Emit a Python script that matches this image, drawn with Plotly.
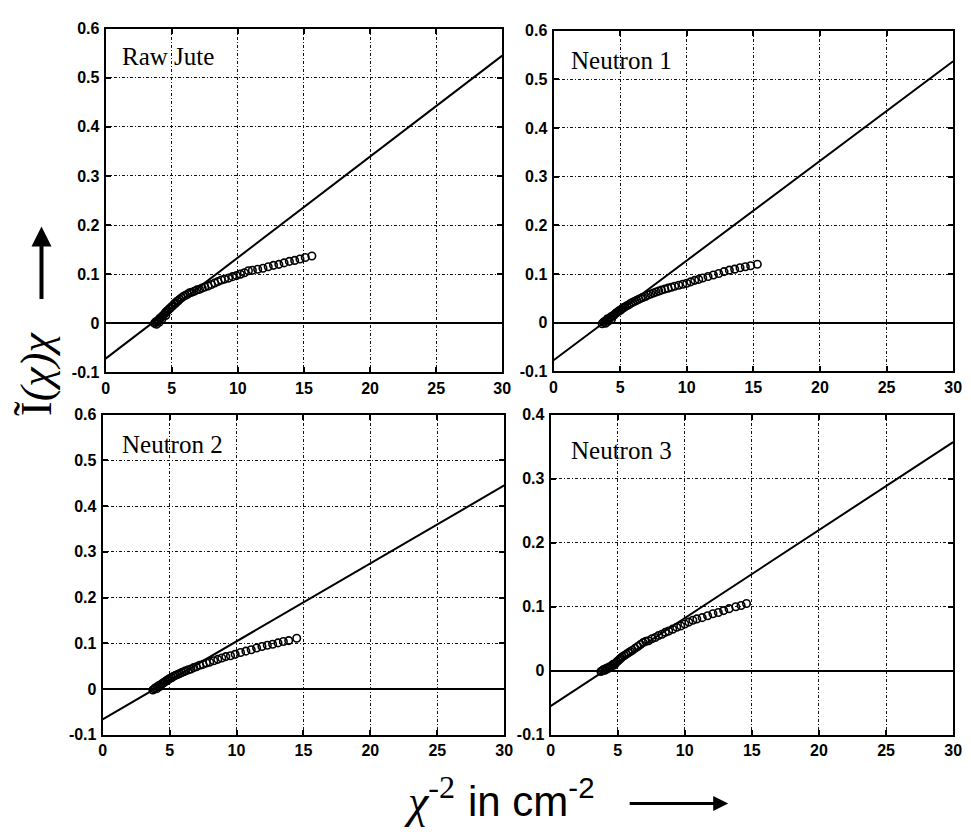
import plotly.graph_objects as go

# ---------------- data ----------------
x_ticks = [0, 5, 10, 15, 20, 25, 30]
y_ticks_a = [-0.1, 0, 0.1, 0.2, 0.3, 0.4, 0.5, 0.6]
y_ticks_b = [-0.1, 0, 0.1, 0.2, 0.3, 0.4]
panel_titles = ["Raw Jute", "Neutron 1", "Neutron 2", "Neutron 3"]

raw_x = [3.70, 3.80, 3.85, 3.90, 4.00, 4.05, 4.10, 4.20, 4.25, 4.30, 4.40, 4.50, 4.55, 4.60,
         4.70, 4.80, 4.90, 5.00, 5.10, 5.20, 5.30, 5.40, 5.50, 5.60, 5.75, 5.90, 6.05, 6.20,
         6.35, 6.50, 6.70, 6.90, 7.10, 7.30, 7.50, 7.75, 8.00, 8.25, 8.50, 8.75, 9.00, 9.30,
         9.60, 9.90, 10.2, 10.5, 10.8, 11.1, 11.5, 11.9, 12.3, 12.7, 13.1, 13.5, 13.9, 14.3,
         14.7, 15.1, 15.6]
raw_y = [0.000, 0.003, -0.002, 0.004, 0.007, 0.002, 0.010, 0.012, 0.008, 0.015, 0.017, 0.021, 0.016, 0.024,
         0.026, 0.029, 0.031, 0.034, 0.036, 0.040, 0.041, 0.045, 0.046, 0.049, 0.052, 0.055, 0.057, 0.059,
         0.062, 0.063, 0.065, 0.068, 0.069, 0.072, 0.074, 0.076, 0.079, 0.082, 0.085, 0.088, 0.090, 0.092,
         0.095, 0.097, 0.100, 0.103, 0.107, 0.108, 0.110, 0.112, 0.115, 0.118, 0.120, 0.123, 0.126, 0.128,
         0.131, 0.134, 0.137]

n1_x = [3.65, 3.75, 3.85, 3.90, 4.00, 4.05, 4.10, 4.20, 4.30, 4.35, 4.45, 4.55, 4.65, 4.75,
        4.85, 4.95, 5.05, 5.15, 5.25, 5.35, 5.50, 5.65, 5.80, 5.95, 6.10, 6.25, 6.40, 6.55,
        6.70, 6.90, 7.10, 7.30, 7.50, 7.70, 7.90, 8.10, 8.35, 8.60, 8.85, 9.10, 9.40, 9.70,
        10.0, 10.3, 10.6, 10.9, 11.2, 11.6, 12.0, 12.4, 12.8, 13.2, 13.6, 14.0, 14.4, 14.8, 15.3]
n1_y = [-0.002, 0.001, 0.003, -0.001, 0.005, 0.008, 0.003, 0.009, 0.012, 0.007, 0.014, 0.016, 0.019, 0.021,
        0.023, 0.025, 0.026, 0.029, 0.031, 0.032, 0.035, 0.037, 0.040, 0.042, 0.044, 0.046, 0.048, 0.050,
        0.052, 0.054, 0.057, 0.059, 0.061, 0.063, 0.065, 0.067, 0.069, 0.071, 0.073, 0.075, 0.077, 0.079,
        0.081, 0.084, 0.087, 0.089, 0.092, 0.095, 0.098, 0.101, 0.105, 0.108, 0.110, 0.113, 0.115, 0.117, 0.120]

n2_x = [3.75, 3.85, 3.95, 4.05, 4.10, 4.20, 4.30, 4.40, 4.50, 4.60, 4.70, 4.80, 4.90, 5.00,
        5.15, 5.30, 5.45, 5.60, 5.75, 5.90, 6.05, 6.20, 6.40, 6.60, 6.80, 7.00, 7.25, 7.50,
        7.75, 8.00, 8.30, 8.60, 8.90, 9.20, 9.55, 9.90, 10.3, 10.7, 11.1, 11.5, 11.9, 12.3,
        12.7, 13.1, 13.5, 13.9, 14.5]
n2_y = [-0.002, 0.000, 0.003, 0.001, 0.005, 0.008, 0.006, 0.011, 0.013, 0.015, 0.017, 0.019, 0.021, 0.023,
        0.025, 0.028, 0.030, 0.032, 0.034, 0.036, 0.038, 0.040, 0.042, 0.044, 0.047, 0.049, 0.052, 0.054,
        0.057, 0.059, 0.062, 0.065, 0.068, 0.071, 0.073, 0.076, 0.080, 0.083, 0.086, 0.090, 0.093, 0.096,
        0.098, 0.101, 0.104, 0.106, 0.111]

n3_x = [3.75, 3.85, 3.95, 4.05, 4.15, 4.25, 4.35, 4.45, 4.55, 4.65, 4.75, 4.85, 4.95, 5.05,
        5.15, 5.25, 5.35, 5.50, 5.65, 5.80, 5.95, 6.10, 6.30, 6.50, 6.70, 6.90, 7.10, 7.30,
        7.55, 7.80, 8.05, 8.30, 8.55, 8.80, 9.10, 9.40, 9.70, 10.0, 10.3, 10.6, 10.9, 11.3,
        11.7, 12.1, 12.5, 12.9, 13.3, 13.8, 14.2, 14.6]
n3_y = [-0.001, 0.000, 0.002, 0.001, 0.004, 0.003, 0.006, 0.005, 0.008, 0.010, 0.009, 0.012, 0.014, 0.016,
        0.018, 0.020, 0.022, 0.024, 0.026, 0.028, 0.030, 0.032, 0.035, 0.038, 0.041, 0.044, 0.046, 0.047,
        0.050, 0.052, 0.055, 0.057, 0.060, 0.062, 0.065, 0.068, 0.070, 0.073, 0.076, 0.079, 0.081, 0.083,
        0.086, 0.089, 0.091, 0.094, 0.097, 0.100, 0.102, 0.105]

fit_x = [0, 30]
raw_fit_y = [-0.072, 0.545]
n1_fit_y = [-0.077, 0.537]
n2_fit_y = [-0.066, 0.445]
n3_fit_y = [-0.055, 0.357]

# ---------------- figure ----------------
W, H = 971, 834
fig = go.Figure()

panels = [
    (raw_x, raw_y, raw_fit_y, y_ticks_a, (103, 505), (21, 372), (118, 49)),
    (n1_x, n1_y, n1_fit_y, y_ticks_a, (557, 962), (23, 371), (573, 54)),
    (n2_x, n2_y, n2_fit_y, y_ticks_a, (100, 507), (415, 742), (118, 446)),
    (n3_x, n3_y, n3_fit_y, y_ticks_b, (554, 962), (415, 742), (573, 452)),
]

tick_font = dict(family="Liberation Sans", size=16, color="black", weight="bold")
annotations = []
for i, (sx, sy, fy, yt, (xl, xr), (yt_px, yb_px), (tx, ty)) in enumerate(panels):
    n = "" if i == 0 else str(i + 1)
    xa, ya = "x" + n, "y" + n
    fig.add_trace(go.Scatter(x=fit_x, y=fy, mode="lines", xaxis=xa, yaxis=ya,
                             line=dict(color="black", width=2), showlegend=False))
    fig.add_trace(go.Scatter(x=sx, y=sy, mode="markers", xaxis=xa, yaxis=ya,
                             marker=dict(symbol="circle-open", size=7.5, color="black",
                                         line=dict(color="black", width=1.6)),
                             showlegend=False))
    common = dict(showline=True, linecolor="black", linewidth=2, mirror="ticks",
                  ticks="inside", ticklen=5, tickwidth=1.5, tickcolor="black",
                  showgrid=True, gridcolor="#111", gridwidth=1.2, griddash="3px,2px,1px,2px",
                  tickfont=tick_font)
    fig.update_layout(**{
        "xaxis" + n: dict(domain=[xl / W, xr / W], range=[0, 30], tickvals=x_ticks,
                          ticktext=[str(v) for v in x_ticks], anchor=ya, zeroline=False,
                          **common),
        "yaxis" + n: dict(domain=[1 - yb_px / H, 1 - yt_px / H], range=[yt[0], yt[-1]],
                          tickvals=yt, ticktext=["0" if v == 0 else f"{v:g}" for v in yt],
                          anchor=xa, zeroline=True, zerolinecolor="black", zerolinewidth=2,
                          ticklabelstandoff=1, **common),
    })
    annotations.append(dict(text=panel_titles[i], xref="paper", yref="paper",
                            x=tx / W, y=1 - ty / H, xanchor="left", yanchor="middle",
                            showarrow=False,
                            font=dict(family="Liberation Serif", size=25, color="black")))

# y axis label
annotations.append(dict(text="Ĩ<i>(χ)χ</i>", xref="paper", yref="paper",
                        x=33 / W, y=1 - 374 / H, xanchor="center", yanchor="middle",
                        textangle=-90, showarrow=False,
                        font=dict(family="Liberation Serif", size=44, color="black")))
annotations.append(dict(text="", xref="paper", yref="paper", x=38 / W, y=1 - 223 / H,
                        ax=0, ay=74, showarrow=True, arrowhead=2, arrowsize=1,
                        arrowwidth=4, arrowcolor="black"))
# x axis label
annotations.append(dict(text="<i>χ</i><sup>-2</sup>", xref="paper", yref="paper",
                        x=403 / W, y=1 - 806 / H, xanchor="left", yanchor="middle",
                        showarrow=False,
                        font=dict(family="Liberation Serif", size=46, color="black")))
annotations.append(dict(text="in cm<sup>-2</sup>", xref="paper", yref="paper",
                        x=468 / W, y=1 - 806 / H, xanchor="left", yanchor="middle",
                        showarrow=False,
                        font=dict(family="Liberation Sans", size=42, color="black")))
annotations.append(dict(text="", xref="paper", yref="paper", x=734 / W, y=1 - 812 / H,
                        ax=-100, ay=0, showarrow=True, arrowhead=2, arrowsize=1,
                        arrowwidth=3, arrowcolor="black"))

fig.update_layout(width=W, height=H, margin=dict(l=0, r=0, t=0, b=0),
                  paper_bgcolor="white", plot_bgcolor="white",
                  annotations=annotations, showlegend=False)

fig.write_html("out.html")
